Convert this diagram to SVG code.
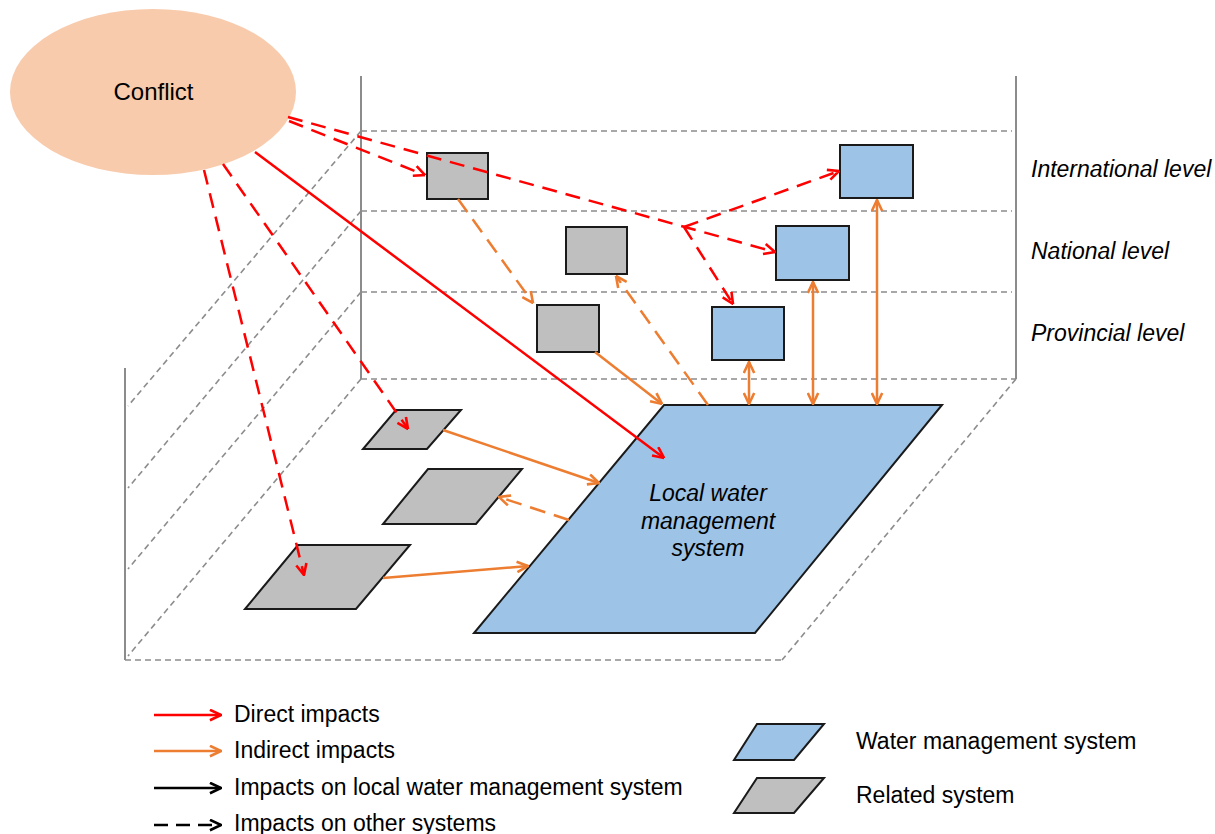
<svg xmlns="http://www.w3.org/2000/svg" width="1215" height="834" viewBox="0 0 1215 834">
<style>
text{font-family:"Liberation Sans",Arial,sans-serif;font-size:23px;fill:#000}
.it{font-style:italic}
.wall{stroke:#8c8c8c;stroke-width:2;fill:none}
.gd{stroke:#8c8c8c;stroke-width:1.6;stroke-dasharray:6 4;fill:none}
.blue{fill:#9DC3E6;stroke:#1a1a1a;stroke-width:2}
.gray{fill:#BFBFBF;stroke:#1a1a1a;stroke-width:2}
.rs{stroke:#FF0000;stroke-width:2.5;fill:none}
.rd{stroke:#FF0000;stroke-width:2.5;fill:none;stroke-dasharray:15 9}
.os{stroke:#ED7D31;stroke-width:2.5;fill:none}
.od{stroke:#ED7D31;stroke-width:2.5;fill:none;stroke-dasharray:16 9}
.ks{stroke:#000;stroke-width:2.5;fill:none}
.kd{stroke:#000;stroke-width:2.5;fill:none;stroke-dasharray:14 8}
</style>
<defs>
<marker id="ar" viewBox="0 0 10 10" refX="9.5" refY="5" markerWidth="13" markerHeight="13" markerUnits="userSpaceOnUse" orient="auto-start-reverse">
<path d="M1,1 L9.5,5 L1,9" fill="none" stroke="#FF0000" stroke-width="2" stroke-dasharray="none"/>
</marker>
<marker id="ao" viewBox="0 0 10 10" refX="9.5" refY="5" markerWidth="13" markerHeight="13" markerUnits="userSpaceOnUse" orient="auto-start-reverse">
<path d="M1,1 L9.5,5 L1,9" fill="none" stroke="#ED7D31" stroke-width="2" stroke-dasharray="none"/>
</marker>
<marker id="ak" viewBox="0 0 10 10" refX="9.5" refY="5" markerWidth="13" markerHeight="13" markerUnits="userSpaceOnUse" orient="auto">
<path d="M1,1 L9.5,5 L1,9" fill="none" stroke="#000" stroke-width="2" stroke-dasharray="none"/>
</marker>
</defs>
<rect width="1215" height="834" fill="#fff"/>

<g id="frame">
<line class="wall" x1="361" y1="76" x2="361" y2="379"/>
<line class="wall" x1="1016" y1="76" x2="1016" y2="379"/>
<line class="wall" x1="125" y1="368" x2="125" y2="660"/>
<line class="gd" x1="361" y1="131" x2="1012" y2="131"/>
<line class="gd" x1="361" y1="211" x2="1012" y2="211"/>
<line class="gd" x1="361" y1="292" x2="1012" y2="292"/>
<line class="gd" x1="361" y1="379" x2="1016" y2="379"/>
<line class="gd" x1="125" y1="660" x2="782" y2="660"/>
<line class="gd" x1="361" y1="131" x2="128" y2="406"/>
<line class="gd" x1="361" y1="211" x2="128" y2="488"/>
<line class="gd" x1="361" y1="292" x2="128" y2="569"/>
<line class="gd" x1="361" y1="379" x2="128" y2="656"/>
<line class="gd" x1="1016" y1="379" x2="782" y2="660"/>
</g>

<g id="levels">
<text class="it" x="1031" y="177">International level</text>
<text class="it" x="1031" y="259">National level</text>
<text class="it" x="1031" y="341">Provincial level</text>
</g>

<g id="conflict">
<ellipse cx="153" cy="92" rx="143" ry="83" fill="#F8CBAD"/>
<text x="153.5" y="100" text-anchor="middle" style="font-size:24px">Conflict</text>
</g>

<g id="local-water">
<polygon class="blue" points="664,405 942,405 755,633 474,633"/>
<text class="it" x="708" y="501" text-anchor="middle">Local water</text>
<text class="it" x="708" y="529" text-anchor="middle">management</text>
<text class="it" x="708" y="556" text-anchor="middle">system</text>
</g>

<g id="water-intl"><rect class="blue" x="840" y="145" width="73" height="53"/></g>
<g id="water-national"><rect class="blue" x="776" y="226" width="73" height="54"/></g>
<g id="water-provincial"><rect class="blue" x="712" y="307" width="72" height="53"/></g>
<g id="related-intl"><rect class="gray" x="427" y="153" width="61" height="46"/></g>
<g id="related-national"><rect class="gray" x="566" y="227" width="61" height="47"/></g>
<g id="related-provincial"><rect class="gray" x="537" y="305" width="62" height="47"/></g>
<g id="related-local-1"><polygon class="gray" points="396,410 461,410 427,449 363,449"/></g>
<g id="related-local-2"><polygon class="gray" points="428,469 522,469 476,524 383,524"/></g>
<g id="related-local-3"><polygon class="gray" points="298,545 410,545 356,609 245,609"/></g>

<g id="connectors">
<path class="rd" d="M288,117 L775,252" marker-end="url(#ar)"/>
<path class="rd" d="M684,227 L839,171" marker-end="url(#ar)"/>
<path class="rd" d="M684,227 L733,304" marker-end="url(#ar)"/>
<path class="rd" d="M289,121 L425,175" marker-end="url(#ar)"/>
<path class="rd" d="M204,170 L304,575" marker-end="url(#ar)"/>
<path class="rd" d="M223,164 L408,429" marker-end="url(#ar)"/>
<path class="rs" d="M255,152 L664,458" marker-end="url(#ar)"/>

<path class="os" d="M595,352 L662,404" marker-end="url(#ao)"/>
<path class="os" d="M443,430 L599,483" marker-end="url(#ao)"/>
<path class="os" d="M383,578 L528,566" marker-end="url(#ao)"/>
<path class="os" d="M749,362 L749,404" marker-start="url(#ao)" marker-end="url(#ao)"/>
<path class="os" d="M813,282 L813,404" marker-start="url(#ao)" marker-end="url(#ao)"/>
<path class="os" d="M877,200 L877,404" marker-start="url(#ao)" marker-end="url(#ao)"/>
<path class="od" d="M458,199 L533,303" marker-end="url(#ao)"/>
<path class="od" d="M708,405 L616,276" marker-end="url(#ao)"/>
<path class="od" d="M569,520 L499,497" marker-end="url(#ao)"/>
</g>

<g id="legend">
<path class="rs" d="M154,715 L221,715" marker-end="url(#ar)"/>
<path class="os" d="M154,751 L221,751" marker-end="url(#ao)"/>
<path class="ks" d="M154,788 L221,788" marker-end="url(#ak)"/>
<path class="kd" d="M154,825 L221,825" marker-end="url(#ak)"/>
<text x="234" y="722">Direct impacts</text>
<text x="234" y="758">Indirect impacts</text>
<text x="234" y="795">Impacts on local water management system</text>
<text x="234" y="831">Impacts on other systems</text>
<polygon class="blue" points="757,724 824,724 794,760 734,760"/>
<polygon class="gray" points="757,778 824,778 794,813 734,813"/>
<text x="856" y="749">Water management system</text>
<text x="856" y="803">Related system</text>
</g>
</svg>
